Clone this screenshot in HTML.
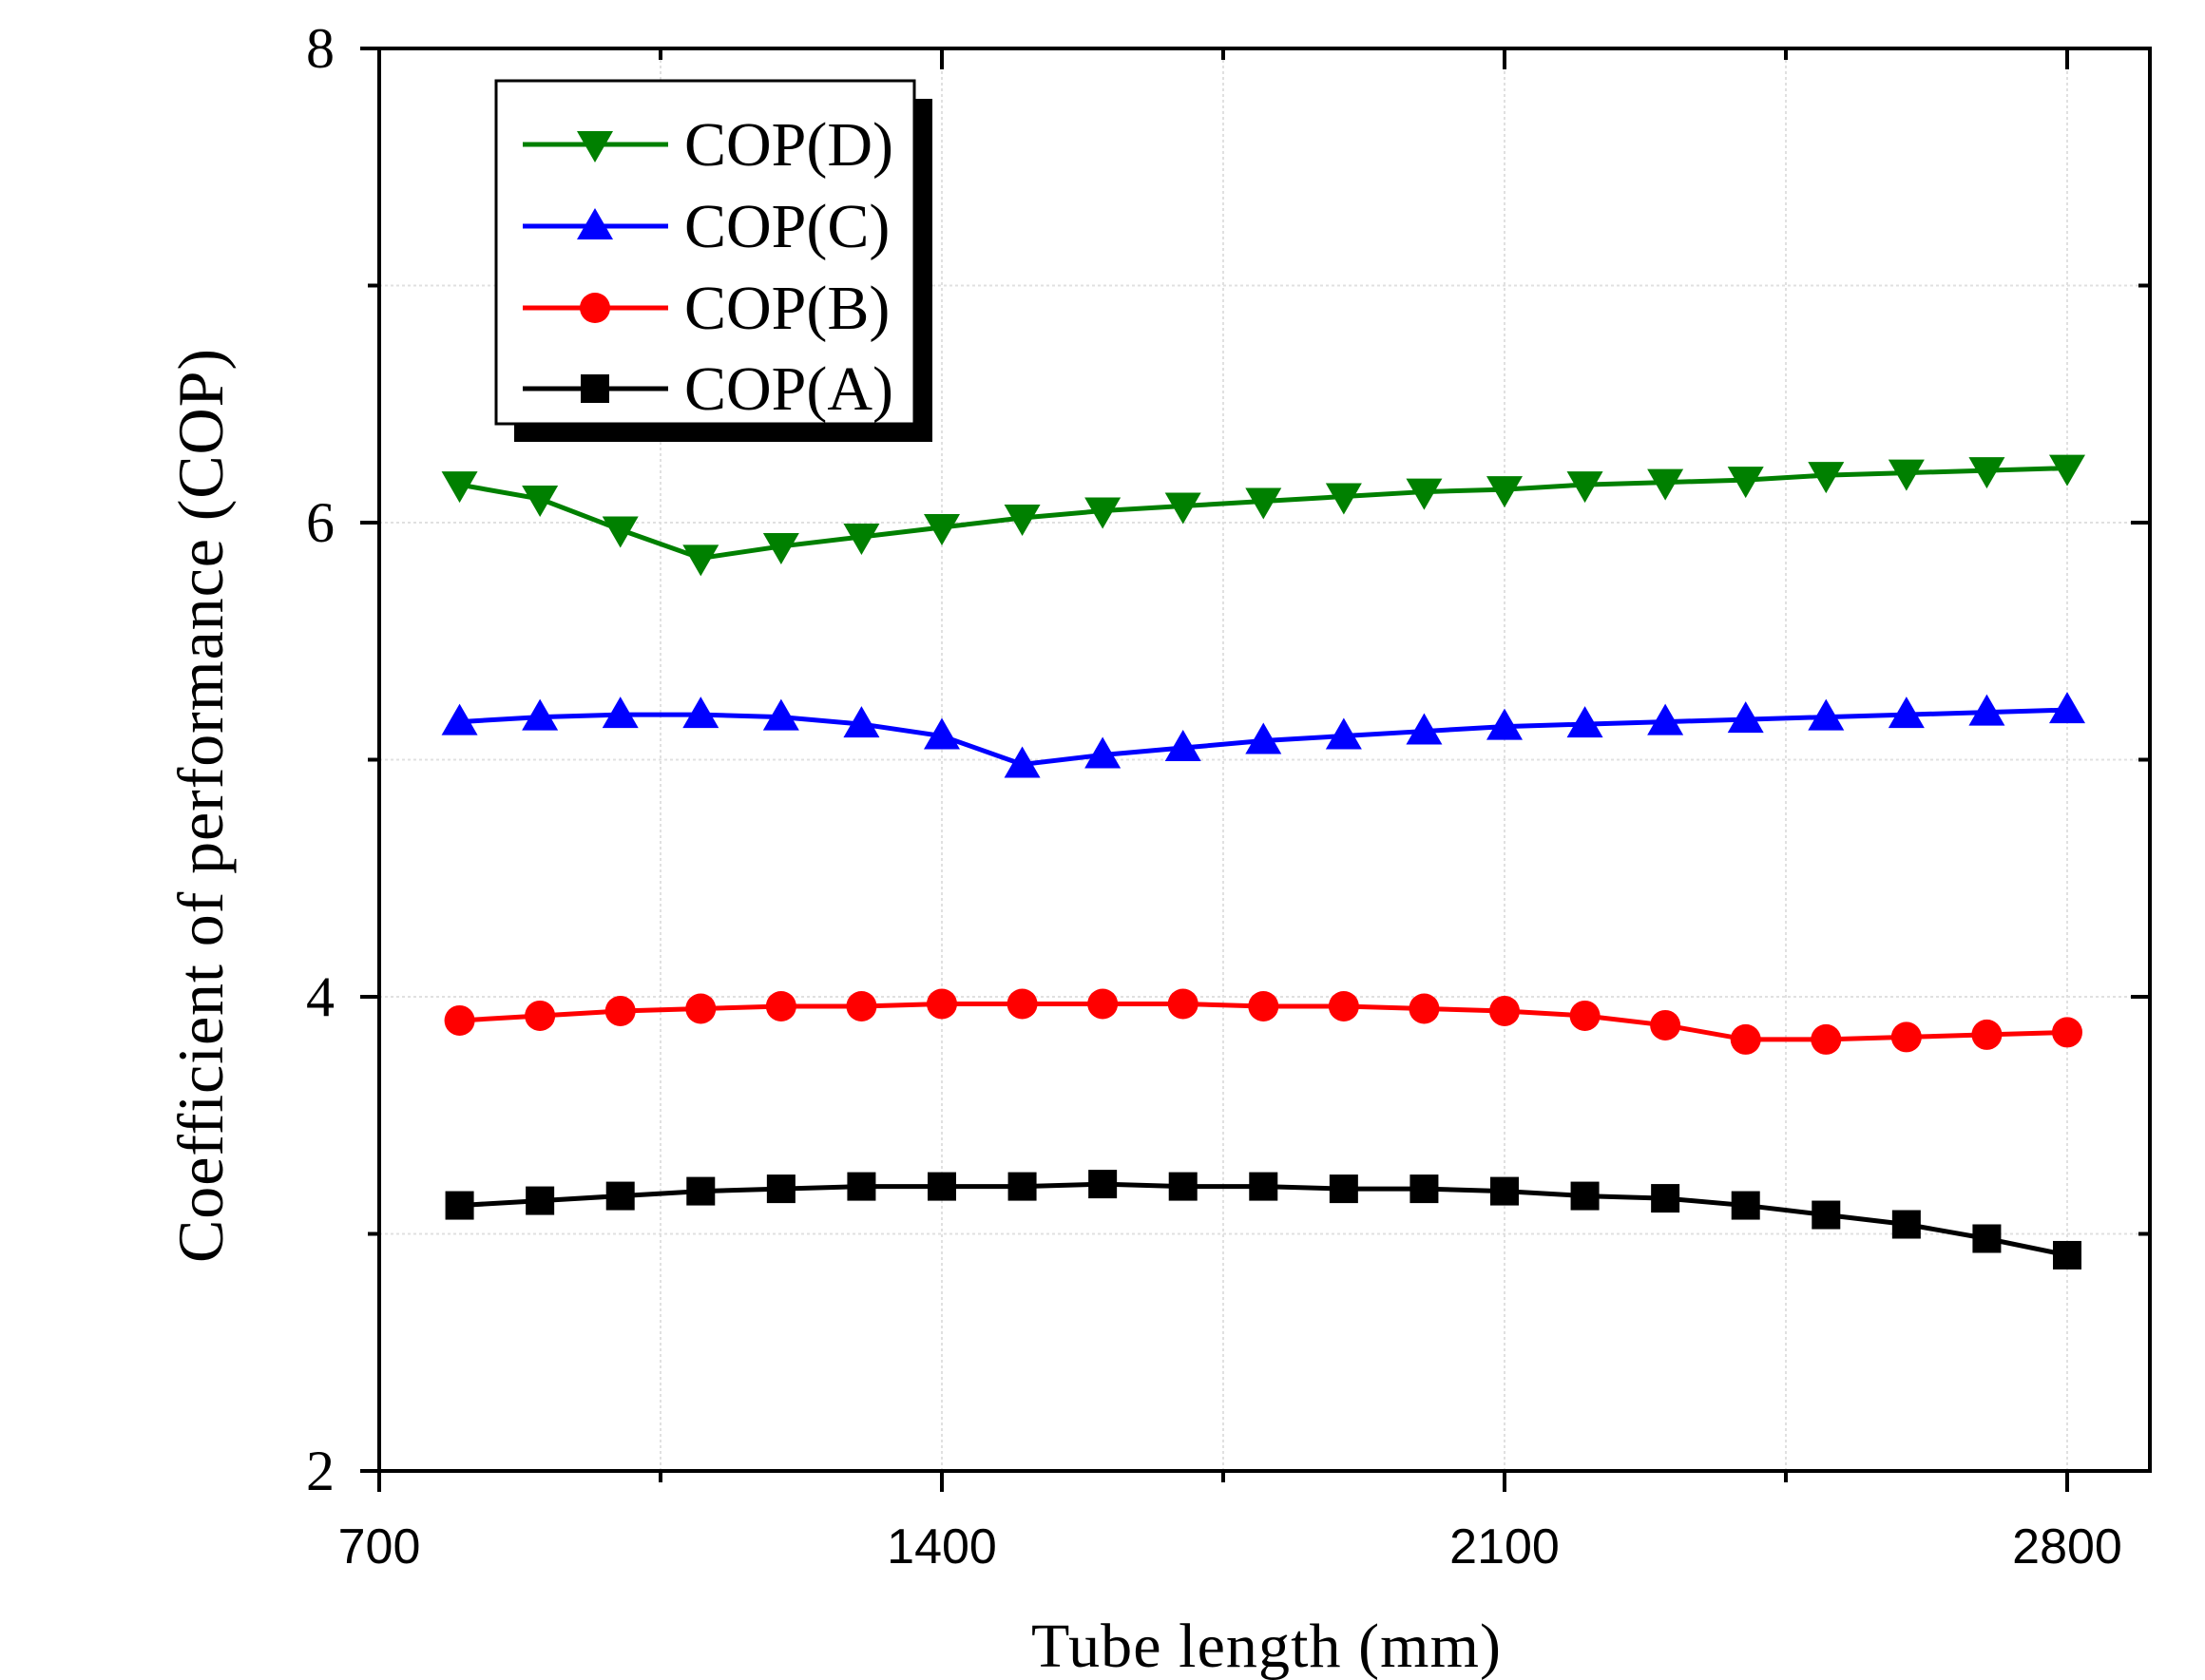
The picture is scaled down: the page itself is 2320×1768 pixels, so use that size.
<!DOCTYPE html>
<html><head><meta charset="utf-8"><style>
html,body{margin:0;padding:0;background:#fff;}
svg{display:block;}
</style></head><body>
<svg id="chart" width="2320" height="1768" xmlns="http://www.w3.org/2000/svg">
<g id="grid"></g>
<g id="series"></g>
<g id="axes"></g>
<g id="legend"></g>
</svg>
<script>
const xValues=[800,900,1000,1100,1200,1300,1400,1500,1600,1700,1800,1900,2000,2100,2200,2300,2400,2500,2600,2700,2800];
const copD=[6.16,6.10,5.97,5.85,5.90,5.94,5.98,6.02,6.05,6.07,6.09,6.11,6.13,6.14,6.16,6.17,6.18,6.20,6.21,6.22,6.23];
const copC=[5.16,5.18,5.19,5.19,5.18,5.15,5.10,4.98,5.02,5.05,5.08,5.10,5.12,5.14,5.15,5.16,5.17,5.18,5.19,5.20,5.21];
const copB=[3.90,3.92,3.94,3.95,3.96,3.96,3.97,3.97,3.97,3.97,3.96,3.96,3.95,3.94,3.92,3.88,3.82,3.82,3.83,3.84,3.85];
const copA=[3.12,3.14,3.16,3.18,3.19,3.20,3.20,3.20,3.21,3.20,3.20,3.19,3.19,3.18,3.16,3.15,3.12,3.08,3.04,2.98,2.91];
const xTicks=[700,1400,2100,2800];
const xMinor=[1050,1750,2450];
const yTicks=[2,4,6,8];
const yMinor=[3,5,7];
const seriesNames=["COP(D)","COP(C)","COP(B)","COP(A)"];

const NS="http://www.w3.org/2000/svg";
const L=399,R=2262,T=51,B=1548;
function sx(v){return 399+(v-700)*(991-399)/700;}
function sy(v){return B-(v-2)*(B-T)/6;}
function el(tag,attrs,parent){const e=document.createElementNS(NS,tag);for(const k in attrs)e.setAttribute(k,attrs[k]);parent.appendChild(e);return e;}

const grid=document.getElementById('grid');
[...xTicks.slice(1),...xMinor].forEach(v=>{
  const g=el('line',{x1:sx(v),x2:sx(v),y1:T,y2:B,stroke:'#e0e0e0','stroke-width':2,'stroke-dasharray':'3 3'},grid);
  
  
});
[3,4,5,6,7].forEach(v=>{
  const g=el('line',{x1:L,x2:R,y1:sy(v),y2:sy(v),stroke:'#e0e0e0','stroke-width':2,'stroke-dasharray':'3 3'},grid);
  
  
});

const series=document.getElementById('series');
const defs=[{d:copD,c:'#008000',m:'down',n:'cop-d'},{d:copC,c:'#0000ff',m:'up',n:'cop-c'},{d:copB,c:'#ff0000',m:'circle',n:'cop-b'},{d:copA,c:'#000000',m:'square',n:'cop-a'}];
function marker(type,x,y,c,parent){
  let e;
  if(type==='down')e=el('polygon',{points:`${x-19},${y-14} ${x+19},${y-14} ${x},${y+19}`,fill:c},parent);
  else if(type==='up')e=el('polygon',{points:`${x-19},${y+14} ${x+19},${y+14} ${x},${y-19}`,fill:c},parent);
  else if(type==='circle')e=el('circle',{cx:x,cy:y,r:16,fill:c},parent);
  else e=el('rect',{x:x-15,y:y-15,width:30,height:30,fill:c},parent);
  return e;
}
defs.forEach(s=>{
  const g=el('g',{},series);
  
  
  const pl=el('polyline',{points:s.d.map((v,i)=>sx(xValues[i])+','+sy(v)).join(' '),fill:'none',stroke:s.c,'stroke-width':5},g);
  
  
  s.d.forEach((v,i)=>{
    const m=marker(s.m,sx(xValues[i]),sy(v),s.c,g);
    
    
  });
});

const axes=document.getElementById('axes');
const frame=el('rect',{x:L,y:T,width:R-L,height:B-T,fill:'none',stroke:'#000','stroke-width':4},axes);


xTicks.forEach(v=>{
  const t=el('line',{x1:sx(v),x2:sx(v),y1:B,y2:B+22,stroke:'#000','stroke-width':4},axes);
  
  
  const t2=el('line',{x1:sx(v),x2:sx(v),y1:T,y2:T+22,stroke:'#000','stroke-width':4},axes);
  
  
  const lb=el('text',{x:sx(v),y:1645,'text-anchor':'middle','font-family':'Liberation Sans, sans-serif','font-size':52,fill:'#000'},axes);
  lb.textContent=v;
  
  
});
xMinor.forEach(v=>{
  const t=el('line',{x1:sx(v),x2:sx(v),y1:B,y2:B+12,stroke:'#000','stroke-width':4},axes);
  
  
  const t2=el('line',{x1:sx(v),x2:sx(v),y1:T,y2:T+12,stroke:'#000','stroke-width':4},axes);
  
  
});
yTicks.forEach(v=>{
  const t=el('line',{x1:L-20,x2:L,y1:sy(v),y2:sy(v),stroke:'#000','stroke-width':4},axes);
  
  
  const t2=el('line',{x1:R-20,x2:R,y1:sy(v),y2:sy(v),stroke:'#000','stroke-width':4},axes);
  
  
  const lb=el('text',{x:352,y:sy(v)+20,'text-anchor':'end','font-family':'Liberation Serif, serif','font-size':60,fill:'#000'},axes);
  lb.textContent=v;
  
  
});
yMinor.forEach(v=>{
  const t=el('line',{x1:L-12,x2:L,y1:sy(v),y2:sy(v),stroke:'#000','stroke-width':4},axes);
  
  
  const t2=el('line',{x1:R-12,x2:R,y1:sy(v),y2:sy(v),stroke:'#000','stroke-width':4},axes);
  
  
});
const xt=el('text',{x:1332,y:1754,'text-anchor':'middle','font-family':'Liberation Serif, serif','font-size':66,textLength:494,fill:'#000'},axes);
xt.textContent='Tube length (mm)';


const yt=el('text',{x:0,y:0,'text-anchor':'middle','font-family':'Liberation Serif, serif','font-size':68,textLength:962,transform:'translate(234,848) rotate(-90)',fill:'#000'},axes);
yt.textContent='Coefficient of performance (COP)';



const legend=document.getElementById('legend');
const sh=el('rect',{x:541,y:104,width:440,height:361,fill:'#000'},legend);


const box=el('rect',{x:522,y:85,width:440,height:361,fill:'#fff',stroke:'#000','stroke-width':3},legend);


const rowsY=[152,238,324,409];
defs.forEach((s,i)=>{
  const g=el('g',{},legend);
  
  
  el('line',{x1:550,x2:703,y1:rowsY[i],y2:rowsY[i],stroke:s.c,'stroke-width':5},g);
  marker(s.m,626,rowsY[i],s.c,g);
  const tx=el('text',{x:720,y:rowsY[i]+22,'font-family':'Liberation Serif, serif','font-size':66,fill:'#000'},g);
  tx.textContent=seriesNames[i];
  
  
});
</script>
</body></html>
